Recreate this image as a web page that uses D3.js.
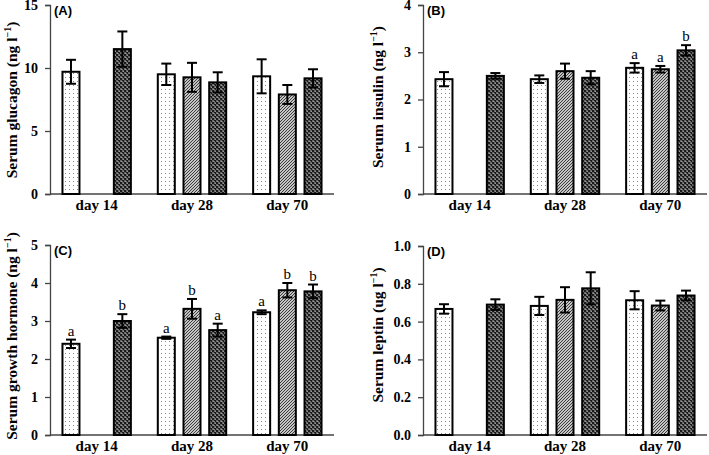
<!DOCTYPE html>
<html>
<head>
<meta charset="utf-8">
<script src="https://cdn.jsdelivr.net/npm/d3@7"></script>
<style>
body { margin: 0; background: #fff; }
svg { display: block; }
</style>
</head>
<body>
<div id="viz"></div>
<script>
var days = ["day 14", "day 28", "day 70"],
    groups = ["g1", "g2", "g3"];

// [day][group], null = no bar
var glucagonMean = [[9.7, null, 11.5], [9.5, 9.26, 8.86], [9.34, 7.9, 9.18]],
    glucagonErr  = [[0.95, null, 1.4], [0.85, 1.15, 0.8], [1.35, 0.75, 0.72]];
var insulinMean = [[2.43, null, 2.50], [2.43, 2.60, 2.46], [2.67, 2.64, 3.04]],
    insulinErr  = [[0.15, null, 0.06], [0.08, 0.16, 0.14], [0.10, 0.07, 0.11]],
    insulinLetters = [[null, null, null], [null, null, null], ["a", "a", "b"]];
var ghMean = [[2.40, null, 3.0], [2.56, 3.32, 2.76], [3.23, 3.81, 3.78]],
    ghErr  = [[0.11, null, 0.18], [0.03, 0.26, 0.17], [0.05, 0.19, 0.18]],
    ghLetters = [["a", null, "b"], ["a", "b", "a"], ["a", "b", "b"]];
var leptinMean = [[0.667, null, 0.690], [0.683, 0.715, 0.776], [0.713, 0.685, 0.738]],
    leptinErr  = [[0.025, null, 0.028], [0.048, 0.067, 0.085], [0.048, 0.026, 0.026]];

var glucagonTicks = [0, 5, 10, 15],
    insulinTicks = [0, 1, 2, 3, 4],
    ghTicks = [0, 1, 2, 3, 4, 5],
    leptinTicks = [0, 0.2, 0.4, 0.6, 0.8, 1.0];

var panels = [
  {tag: "(A)", label: "Serum glucagon (ng l", mean: glucagonMean, err: glucagonErr, letters: null,
   ticks: glucagonTicks, fmt: d3.format("d"), max: 15, x0: 50, x1: 334, top: 5, bottom: 194, labX: 17, labY: 100},
  {tag: "(B)", label: "Serum insulin (ng l", mean: insulinMean, err: insulinErr, letters: insulinLetters,
   ticks: insulinTicks, fmt: d3.format("d"), max: 4, x0: 423, x1: 707, top: 5, bottom: 194, labX: 383, labY: 97},
  {tag: "(C)", label: "Serum growth hormone (ng l", mean: ghMean, err: ghErr, letters: ghLetters,
   ticks: ghTicks, fmt: d3.format("d"), max: 5, x0: 50, x1: 334, top: 245, bottom: 435, labX: 17, labY: 336},
  {tag: "(D)", label: "Serum leptin (ug l", mean: leptinMean, err: leptinErr, letters: null,
   ticks: leptinTicks, fmt: d3.format(".1f"), max: 1, x0: 423, x1: 707, top: 246, bottom: 435, labX: 383, labY: 335}
];

var svg = d3.select("#viz")
    .append("svg")
    .attr("width", 709)
    .attr("height", 455);

var defs = svg.append("defs");

// dotted (group 1)
var p1 = defs.append("pattern").attr("id", "dots")
    .attr("patternUnits", "userSpaceOnUse").attr("width", 4).attr("height", 4);
p1.append("rect").attr("width", 4).attr("height", 4).attr("fill", "#fff");
p1.append("rect").attr("x", 1).attr("y", 1).attr("width", 1).attr("height", 1).attr("fill", "#888");

// diagonal hatch (group 2)
var p2 = defs.append("pattern").attr("id", "hatch")
    .attr("patternUnits", "userSpaceOnUse").attr("width", 3).attr("height", 3);
p2.append("rect").attr("width", 3).attr("height", 3).attr("fill", "#fff");
p2.append("path").attr("d", "M-1,1 L1,-1 M0,3 L3,0 M2,4 L4,2")
    .attr("stroke", "#333").attr("stroke-width", 1.1);

// dark check (group 3)
var p3 = defs.append("pattern").attr("id", "check")
    .attr("patternUnits", "userSpaceOnUse").attr("width", 4).attr("height", 4);
p3.append("rect").attr("width", 4).attr("height", 4).attr("fill", "#1a1a1a");
p3.append("path").attr("d", "M0,1 L2,1 L2,2 M2,3 L4,3 L4,4")
    .attr("stroke", "#e0e0e0").attr("stroke-width", 0.8).attr("fill", "none");

var fills = ["url(#dots)", "url(#hatch)", "url(#check)"];

panels.forEach(function(p){
  var g = svg.append("g");

  var x = d3.scaleBand().domain(days).range([p.x0 - 1, p.x0 + 285]);
  var xin = d3.scaleBand().domain(groups).range([-34.2, 34.2]).paddingInner(0.338);
  var y = d3.scaleLinear().domain([0, p.max]).range([p.bottom, p.top]);

  var yAxis = g.append("g")
      .attr("transform", "translate(" + p.x0 + ",0)")
      .call(d3.axisLeft(y).tickValues(p.ticks).tickFormat(p.fmt).tickSize(5).tickPadding(7));
  yAxis.select(".domain").attr("stroke", "#444").attr("stroke-width", 1.3);
  yAxis.selectAll(".tick line").attr("stroke", "#444").attr("stroke-width", 1.3);
  yAxis.selectAll(".tick text")
      .style("font-family", "'Liberation Serif', serif")
      .style("font-weight", "bold")
      .style("font-size", "14px")
      .attr("fill", "#000");

  g.append("line")
      .attr("x1", p.x0).attr("x2", p.x1)
      .attr("y1", y(0)).attr("y2", y(0))
      .attr("stroke", "#444").attr("stroke-width", 1.3);

  g.selectAll("text.day")
      .data(days)
      .enter().append("text")
      .attr("class", "day")
      .attr("x", function(d){return x(d) + x.bandwidth()/2;})
      .attr("y", p.bottom + 16)
      .attr("text-anchor", "middle")
      .style("font-family", "'Liberation Serif', serif")
      .style("font-weight", "bold")
      .style("font-size", "15px")
      .text(function(d){return d;});

  var items = [];
  days.forEach(function(d, i){
    groups.forEach(function(s, j){
      if (p.mean[i][j] == null) return;
      items.push({day: d, grp: s, j: j, v: p.mean[i][j], e: p.err[i][j],
                  letter: p.letters ? p.letters[i][j] : null});
    });
  });

  function cx(d){ return x(d.day) + x.bandwidth()/2 + xin(d.grp); }

  g.selectAll("rect.bar")
      .data(items)
      .enter().append("rect")
      .attr("class", "bar")
      .attr("x", cx)
      .attr("width", xin.bandwidth())
      .attr("y", function(d){return y(d.v);})
      .attr("height", function(d){return y(0) - y(d.v);})
      .attr("fill", function(d){return fills[d.j];})
      .attr("stroke", "#000")
      .attr("stroke-width", 2);

  var eb = g.selectAll("g.err")
      .data(items)
      .enter().append("g")
      .attr("class", "err")
      .attr("stroke", "#000")
      .attr("stroke-width", 2);
  eb.append("line")
      .attr("x1", function(d){return cx(d) + xin.bandwidth()/2;})
      .attr("x2", function(d){return cx(d) + xin.bandwidth()/2;})
      .attr("y1", function(d){return y(d.v + d.e);})
      .attr("y2", function(d){return y(d.v - d.e);});
  [1, -1].forEach(function(sgn){
    eb.append("line")
        .attr("x1", function(d){return cx(d) + xin.bandwidth()/2 - 5;})
        .attr("x2", function(d){return cx(d) + xin.bandwidth()/2 + 5;})
        .attr("y1", function(d){return y(d.v + sgn*d.e);})
        .attr("y2", function(d){return y(d.v + sgn*d.e);});
  });

  g.selectAll("text.letter")
      .data(items.filter(function(d){return d.letter;}))
      .enter().append("text")
      .attr("class", "letter")
      .attr("x", function(d){return cx(d) + xin.bandwidth()/2;})
      .attr("y", function(d){return y(d.v + d.e) - 4;})
      .attr("text-anchor", "middle")
      .attr("fill", "#000")
      .style("font-family", "'Liberation Serif', serif")
      .style("font-size", "15px")
      .text(function(d){return d.letter;});

  g.append("text")
      .attr("x", p.x0 + 4)
      .attr("y", p.top + 10)
      .style("font-family", "'Liberation Sans', Arial, sans-serif")
      .style("font-weight", "bold")
      .style("font-size", "13px")
      .text(p.tag);

  var lab = g.append("text")
      .attr("transform", "translate(" + p.labX + "," + p.labY + ") rotate(-90)")
      .attr("text-anchor", "middle")
      .style("font-family", "'Liberation Serif', serif")
      .style("font-weight", "bold")
      .style("font-size", "15.5px");
  lab.append("tspan").text(p.label);
  lab.append("tspan").attr("dy", -6).style("font-size", "10px").text("\u22121");
  lab.append("tspan").attr("dy", 6).text(")");
});
</script>
</body>
</html>
